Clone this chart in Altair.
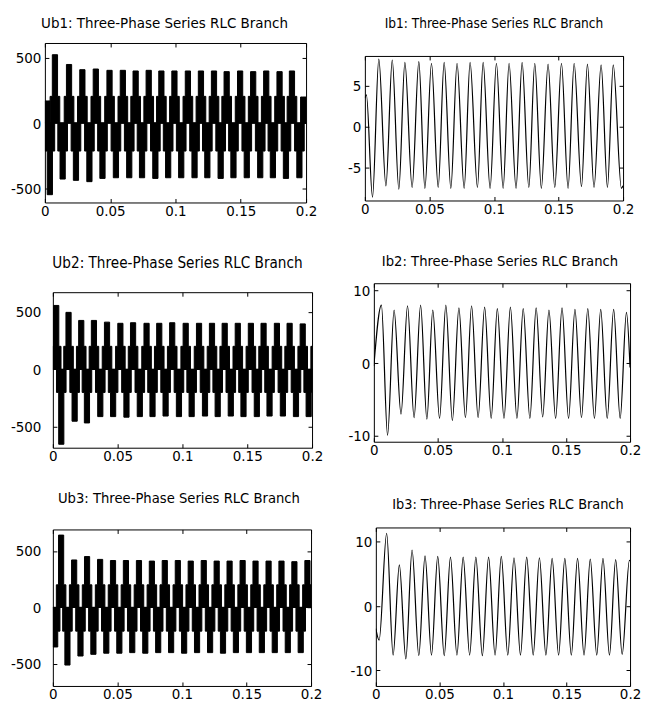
import altair as alt
import pandas as pd

FONT = "Liberation Sans Narrow, DejaVu Sans Condensed, Arial Narrow, sans-serif"

# ---------------- axis ticks ----------------
x_ticks = [0, 0.05, 0.1, 0.15, 0.2]
x_labels = ["0", "0.05", "0.1", "0.15", "0.2"]
uv_ticks = [-500, 0, 500]
uv_labels = ["-500", "0", "500"]
ib1_ticks = [-5, 0, 5]
ib1_labels = ["-5", "0", "5"]
ib23_ticks = [-10, 0, 10]
ib23_labels = ["-10", "0", "10"]

# ---------------- voltage lobes (centre time, peak value) ----------------
ub1_pos_t = [0.0002, 0.0077, 0.0185, 0.0287, 0.0390, 0.0495, 0.0597, 0.0695, 0.0795, 0.0892, 0.0992,
             0.1095, 0.1195, 0.1295, 0.1392, 0.1495, 0.1595, 0.1695, 0.1797, 0.1892, 0.1995]
ub1_pos_v = [170, 525, 450, 410, 415, 405, 405, 400, 405, 400, 400,
             400, 400, 400, 395, 400, 395, 400, 395, 400, 200]
ub1_neg_t = [0.0038, 0.0136, 0.0238, 0.0341, 0.0441, 0.0544, 0.0646, 0.0744, 0.0846, 0.0944,
             0.1044, 0.1146, 0.1244, 0.1346, 0.1444, 0.1546, 0.1649, 0.1746, 0.1846, 0.1949]
ub1_neg_v = [-550, -430, -440, -450, -425, -420, -420, -420, -425, -420,
             -420, -420, -420, -425, -420, -420, -420, -420, -425, -420]

ub2_pos_t = [0.0026, 0.0121, 0.0219, 0.0317, 0.0418, 0.0521, 0.0619, 0.0723, 0.0821, 0.0921,
             0.1025, 0.1128, 0.1228, 0.1326, 0.1427, 0.1528, 0.1626, 0.1729, 0.1827, 0.1928, 0.2028]
ub2_pos_v = [555, 495, 425, 425, 410, 400, 405, 400, 400, 405,
             400, 400, 400, 400, 400, 400, 400, 400, 400, 395, 400]
ub2_neg_t = [0.0065, 0.0168, 0.0263, 0.0366, 0.0465, 0.0568, 0.0671, 0.0769, 0.0870, 0.0973,
             0.1071, 0.1174, 0.1272, 0.1373, 0.1471, 0.1574, 0.1672, 0.1775, 0.1876, 0.1974]
ub2_neg_v = [-650, -450, -465, -410, -410, -415, -410, -410, -405, -410,
             -410, -405, -410, -405, -410, -410, -405, -405, -410, -410]

ub3_pos_t = [0.0064, 0.0165, 0.0265, 0.0366, 0.0466, 0.0566, 0.0667, 0.0767, 0.0867, 0.0968,
             0.1068, 0.1169, 0.1269, 0.1369, 0.1470, 0.1570, 0.1671, 0.1771, 0.1871, 0.1972]
ub3_pos_v = [640, 420, 450, 425, 415, 415, 415, 410, 415, 415,
             410, 415, 410, 410, 415, 410, 410, 410, 405, 415]
ub3_neg_t = [0.0018, 0.0113, 0.0214, 0.0314, 0.0414, 0.0515, 0.0615, 0.0716, 0.0816, 0.0916,
             0.1017, 0.1117, 0.1218, 0.1318, 0.1418, 0.1519, 0.1619, 0.1719, 0.1820, 0.1920]
ub3_neg_v = [-350, -510, -430, -415, -405, -405, -400, -405, -400, -400,
             -405, -400, -400, -405, -400, -400, -400, -400, -400, -400]

# shoulder (intermediate step) levels of the lobes
ub1_shoulder = [205, -215]
ub2_shoulder = [200, -200]
ub3_shoulder = [200, -210]

# ---------------- currents (turning points) ----------------
ib1_t = [0, 0.0012, 0.0059, 0.0108, 0.0163, 0.0212, 0.0263, 0.0310, 0.0366, 0.0418, 0.0465, 0.0516,
         0.0568, 0.0614, 0.0666, 0.0714, 0.0769, 0.0815, 0.0872, 0.0916, 0.0970, 0.1019, 0.1071,
         0.1117, 0.1171, 0.1218, 0.1270, 0.1316, 0.1367, 0.1419, 0.1471, 0.1523, 0.1574, 0.1621,
         0.1678, 0.1724, 0.1775, 0.1830, 0.1879, 0.1924, 0.1987, 0.2]
ib1_v = [3.5, 3.9, -8.7, 8.3, -7.3, 8.2, -7.7, 7.9, -7.5, 8.0, -7.6, 7.8, -7.5, 7.9, -7.6, 7.8,
         -7.6, 7.9, -7.5, 7.9, -7.6, 7.8, -7.6, 7.8, -7.6, 7.9, -7.5, 7.8, -7.6, 7.7, -7.5, 7.8,
         -7.6, 7.8, -7.4, 7.7, -7.5, 7.6, -7.5, 7.6, -7.6, -7.3]

ib2_t = [0, 0.0059, 0.0107, 0.0158, 0.0212, 0.0263, 0.0314, 0.0365, 0.0414, 0.0460, 0.0513, 0.0562,
         0.0613, 0.0664, 0.0715, 0.0763, 0.0814, 0.0865, 0.0916, 0.0964, 0.1016, 0.1066, 0.1117,
         0.1166, 0.1218, 0.1267, 0.1318, 0.1367, 0.1419, 0.1469, 0.1520, 0.1570, 0.1621, 0.1670,
         0.1722, 0.1771, 0.1822, 0.1872, 0.1923, 0.1972, 0.2]
ib2_v = [-0.4, 8.0, -9.9, 7.3, -7.0, 7.9, -7.5, 8.0, -7.7, 7.3, -7.6, 8.0, -7.9, 7.6, -7.5, 7.9,
         -7.5, 7.7, -7.6, 7.5, -7.6, 7.7, -7.6, 7.5, -7.6, 7.6, -7.4, 7.3, -7.6, 7.6, -7.6, 7.4,
         -7.5, 7.5, -7.6, 7.4, -7.6, 7.4, -7.6, 7.0, -0.6]

ib3_t = [0, 0.0026, 0.0085, 0.0136, 0.0185, 0.0236, 0.0285, 0.0338, 0.0387, 0.0438, 0.0487, 0.0538,
         0.0587, 0.0638, 0.0687, 0.0738, 0.0787, 0.0838, 0.0887, 0.0938, 0.0987, 0.1038, 0.1087,
         0.1138, 0.1187, 0.1238, 0.1287, 0.1338, 0.1387, 0.1438, 0.1487, 0.1538, 0.1587, 0.1638,
         0.1687, 0.1738, 0.1787, 0.1838, 0.1887, 0.1938, 0.1995, 0.2]
ib3_v = [-3.5, -5.3, 11.3, -7.6, 6.4, -8.2, 8.7, -7.7, 7.8, -7.6, 7.7, -7.7, 7.6, -7.6, 7.6, -7.6,
         7.6, -7.7, 7.6, -7.6, 7.7, -7.6, 7.5, -7.6, 7.6, -7.6, 7.5, -7.6, 7.4, -7.6, 7.4, -7.6,
         7.4, -7.6, 7.3, -7.6, 7.4, -7.6, 7.2, -7.5, 7.1, 7.0]

titles = ["Ub1: Three-Phase Series RLC Branch", "Ib1: Three-Phase Series RLC Branch",
          "Ub2: Three-Phase Series RLC Branch", "Ib2: Three-Phase Series RLC Branch",
          "Ub3: Three-Phase Series RLC Branch", "Ib3: Three-Phase Series RLC Branch"]

T0, T1 = 0.0, 0.2
# lobe half widths (s): tall step and shoulder step
W_PEAK = 0.0020
W_SHOULDER = 0.0037

LABEL_FS = 15


def label_expr(ticks, labels):
    parts = [f"abs(datum.value - ({v})) < 1e-9 ? '{s}' : " for v, s in zip(ticks, labels)]
    return "".join(parts) + "''"


def common_axis(**kw):
    base = dict(grid=False, domain=False, ticks=True, tickSize=4, offset=-4, title=None,
                tickColor="black", labelColor="black", labelFont=FONT,
                labelFontSize=LABEL_FS, labelFlush=False)
    base.update(kw)
    return alt.Axis(**base)


def x_axis(orient, show):
    return common_axis(orient=orient, values=x_ticks, labelExpr=label_expr(x_ticks, x_labels),
                       labels=show, labelPadding=1)


def y_axis(orient, ticks, labels, show, pad=4):
    return common_axis(orient=orient, values=ticks, labelExpr=label_expr(ticks, labels),
                       labels=show, labelPadding=pad)


def envelope(centers, peaks, shoulder):
    pts = []
    for c, p in zip(centers, peaks):
        s = shoulder if abs(shoulder) < abs(p) else p
        pts += [(c - W_SHOULDER, s), (c - W_PEAK, p), (c + W_PEAK, s), (c + W_SHOULDER, 0)]
    pts.sort(key=lambda q: q[0])
    out, cur = [], 0
    for t, v in pts:
        if t <= T0:
            cur = v
            continue
        if t >= T1:
            break
        if not out:
            out.append((T0, cur))
        out.append((t, v))
        cur = v
    if not out:
        out.append((T0, cur))
    out.append((T1, cur))
    return pd.DataFrame(out, columns=["t", "v"])


def frame_layer(df, xs, ys, yticks, ylabels):
    return alt.Chart(df).mark_line(opacity=0, clip=True).encode(
        x=alt.X("t:Q", scale=xs, axis=x_axis("top", False)),
        y=alt.Y("v:Q", scale=ys, axis=y_axis("right", yticks, ylabels, False)),
    )


def panel_props(layer, title, w, h, toff, tfs, tdx):
    return layer.resolve_scale(x="independent", y="independent").properties(
        width=w, height=h,
        title=alt.TitleParams(title, offset=toff, font=FONT, fontSize=tfs, dx=tdx,
                              fontWeight="normal", color="black"))


def voltage_panel(title, pos_t, pos_v, neg_t, neg_v, shoulder, ydom, w, h, toff, tfs, tdx, pad):
    pos = envelope(pos_t, pos_v, shoulder[0]).assign(part="pos")
    neg = envelope(neg_t, neg_v, shoulder[1]).assign(part="neg")
    df = pd.concat([pos, neg], ignore_index=True)
    df["z"] = 0
    xs = alt.Scale(domain=[T0, T1], nice=False, zero=False)
    ys = alt.Scale(domain=ydom, nice=False, zero=False)
    area = alt.Chart(df).mark_area(color="black", stroke="black", strokeWidth=1,
                                   interpolate="step-after", clip=True).encode(
        x=alt.X("t:Q", scale=xs, axis=x_axis("bottom", True)),
        y=alt.Y("v:Q", scale=ys, axis=y_axis("left", uv_ticks, uv_labels, True, pad)),
        y2="z:Q",
        detail="part:N",
    )
    return panel_props(alt.layer(area, frame_layer(pos, xs, ys, uv_ticks, uv_labels)),
                       title, w, h, toff, tfs, tdx)


def current_panel(title, ts, vs, yticks, ylabels, ydom, w, h, toff, tfs, tdx, pad):
    df = pd.DataFrame({"t": ts, "v": vs})
    xs = alt.Scale(domain=[T0, T1], nice=False, zero=False)
    ys = alt.Scale(domain=ydom, nice=False, zero=False)
    line = alt.Chart(df).mark_line(color="black", strokeWidth=1.2, interpolate="monotone",
                                   clip=True).encode(
        x=alt.X("t:Q", scale=xs, axis=x_axis("bottom", True)),
        y=alt.Y("v:Q", scale=ys, axis=y_axis("left", yticks, ylabels, True, pad)),
    )
    return panel_props(alt.layer(line, frame_layer(df, xs, ys, yticks, ylabels)),
                       title, w, h, toff, tfs, tdx)


SP_DF = pd.DataFrame({"s": [0]})


def spacer(w, h):
    return alt.Chart(SP_DF).mark_rect(opacity=0).encode(
        x=alt.value(0), x2=alt.value(w), y=alt.value(0), y2=alt.value(h)
    ).properties(width=w, height=h, view=alt.ViewBackground(strokeOpacity=0, fillOpacity=0))


def wrap(panel, w):
    return alt.hconcat(spacer(w, 1), panel, spacing=0)


ub1 = voltage_panel(titles[0], ub1_pos_t, ub1_pos_v, ub1_neg_t, ub1_neg_v, ub1_shoulder,
                    [-610, 615], 262, 160, 12, 15.0, -11, pad=4)
ub2 = voltage_panel(titles[2], ub2_pos_t, ub2_pos_v, ub2_neg_t, ub2_neg_v, ub2_shoulder,
                    [-680, 670], 260, 156, 21, 15.2, -5, pad=12)
ub3 = voltage_panel(titles[4], ub3_pos_t, ub3_pos_v, ub3_neg_t, ub3_neg_v, ub3_shoulder,
                    [-695, 690], 259, 157, 23, 14.7, -3, pad=12)

ib1 = current_panel(titles[1], ib1_t, ib1_v, ib1_ticks, ib1_labels, [-9.1, 8.7],
                    259, 145, 25, 13.6, 0, pad=4)
ib2 = current_panel(titles[3], ib2_t, ib2_v, ib23_ticks, ib23_labels, [-10.8, 11.0],
                    257, 159, 14, 14.7, -2, pad=4)
ib3 = current_panel(titles[5], ib3_t, ib3_v, ib23_ticks, ib23_labels, [-12.4, 12.2],
                    255, 159, 15, 14.4, 5, pad=4)

left = alt.vconcat(
    spacer(1, 1),
    alt.vconcat(wrap(ub1, 1), alt.vconcat(wrap(ub2, 1), wrap(ub3, 1), spacing=26), spacing=35),
    spacing=5)
right = alt.vconcat(
    spacer(1, 1),
    alt.vconcat(wrap(ib1, 3), alt.vconcat(wrap(ib2, 3), wrap(ib3, 5), spacing=37), spacing=36),
    spacing=6)

chart = alt.hconcat(left, right, spacing=20).properties(
    padding={"left": 0, "top": 0, "right": 0, "bottom": 0}
).configure(font=FONT, background="white").configure_view(stroke="black", strokeWidth=1)

chart.save("out.html", embed_options={"renderer": "svg", "actions": False})
